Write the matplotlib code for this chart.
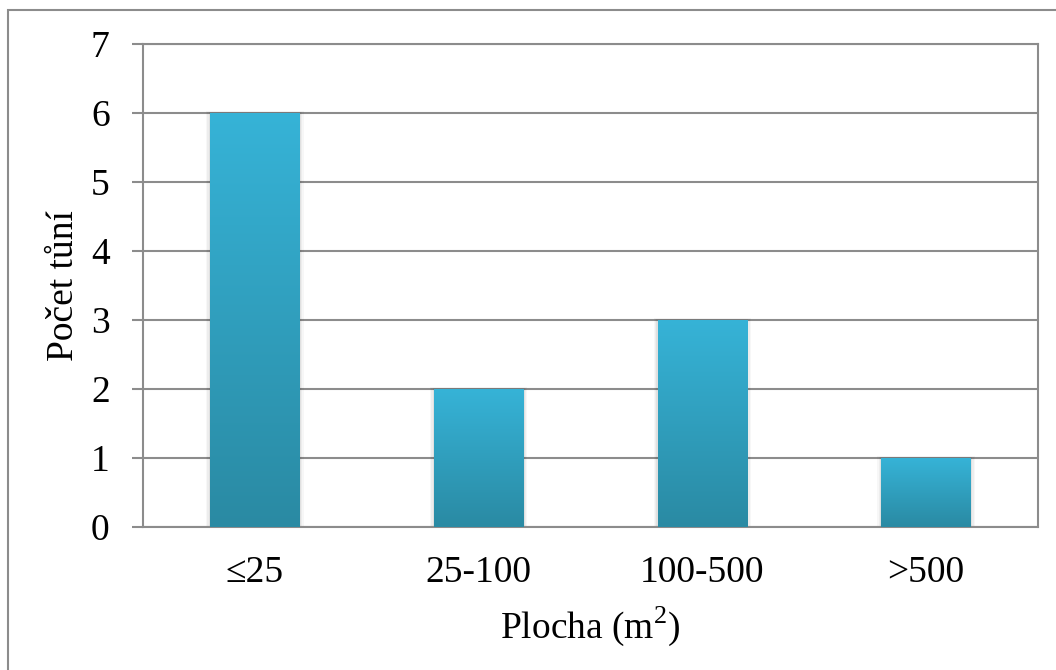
import matplotlib
matplotlib.use("Agg")
import matplotlib.pyplot as plt
import numpy as np
from matplotlib.colors import LinearSegmentedColormap
from matplotlib.patches import Rectangle

categories = ["≤25", "25-100", "100-500", ">500"]
counts = [6, 2, 3, 1]
y_ticks = [0, 1, 2, 3, 4, 5, 6, 7]

plt.rcParams["font.family"] = ["Liberation Serif", "DejaVu Serif"]
plt.rcParams["mathtext.fontset"] = "custom"
plt.rcParams["mathtext.rm"] = "Liberation Serif"

W, H = 1056, 670
fig = plt.figure(figsize=(W / 100, H / 100), dpi=100)
ax = fig.add_axes([143 / W, 1 - 527 / H, (1038 - 143) / W, (527 - 44) / H])

# outer chart frame (only left/top edges fall inside the picture)
fig.patches.append(Rectangle((8 / W, -0.1), 1.2, (H - 10) / H + 0.1,
                             transform=fig.transFigure, fill=False,
                             edgecolor="#8c8c8c", linewidth=1.5, zorder=0))

grey = "#8c8c8c"
fs = 27
x = np.arange(len(categories))
bars = ax.bar(x, counts, width=0.40, color="none", edgecolor="none", zorder=3)

cmap = LinearSegmentedColormap.from_list("bar", ["#2a8aa3", "#36b3d7"])
grad = np.linspace(0, 1, 256).reshape(-1, 1)
for b in bars:
    x0, y0 = b.get_x(), b.get_y()
    w, h = b.get_width(), b.get_height()
    # soft shadow
    for k, a in enumerate([0.05, 0.04, 0.03]):
        d = 0.006 * (k + 1)
        ax.add_patch(Rectangle((x0 - d, y0), w + 2 * d, h + 0.01 * (k + 1),
                               facecolor="black", alpha=a, edgecolor="none", zorder=2))
    ax.imshow(grad, cmap=cmap, origin="lower", aspect="auto",
              extent=(x0, x0 + w, y0, y0 + h), zorder=3)

ax.set_xlim(-0.5, len(categories) - 0.5)
ax.set_ylim(0, 7)
ax.set_yticks(y_ticks)
ax.set_xticks(x)
ax.set_xticklabels(categories)
ax.yaxis.grid(True, color=grey, linewidth=1.5, zorder=1)
ax.set_axisbelow(True)
for s in ax.spines.values():
    s.set_color(grey)
    s.set_linewidth(1.5)
ax.tick_params(axis="y", length=8, width=1.5, color=grey, pad=16, labelsize=fs)
ax.tick_params(axis="x", length=0, pad=20.5, labelsize=fs)

ax.set_xlabel("Plocha (m$^2$)", fontsize=fs, labelpad=10.5)
ax.set_ylabel("Počet tůní", fontsize=fs, labelpad=7)

fig.savefig("out.png", dpi=100)
